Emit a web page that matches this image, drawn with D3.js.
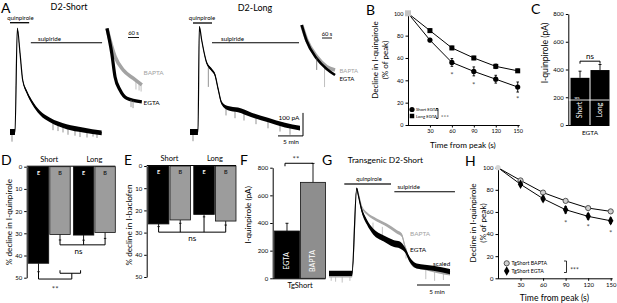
<!DOCTYPE html>
<html>
<head>
<meta charset="utf-8">
<script src="https://cdn.jsdelivr.net/npm/d3@7"></script>
<style>
  body { margin: 0; background: #fff; }
  svg text { font-family: Lato, "Open Sans", sans-serif; }
  .axis path, .axis line { stroke: #000; stroke-width: 1; }
</style>
</head>
<body>
<div id="chart"></div>
<script>
/* ---------- DATA ---------- */

// A: whole-cell traces, time (s) vs current (pA)
const shortT     = [0, 60, 88, 120, 152, 200, 260, 360, 480, 680, 876, 1100];
const shortI     = [0, 0, 451, 344, 226, 175, 132, 83, 52, 23, 9, -4];
const shortNoise = [13, 13, 3, 3, 4, 6, 8, 9, 10, 11, 11, 10];
const shortSpikes = [[24, -10, -42], [516, 40, 8], [576, 34, 4], [636, 28, -2], [696, 22, -12],
                     [780, 16, -16], [840, 12, -22], [924, 8, -24], [996, 4, -20], [1044, 0, -26]];

const longT     = [0, 96, 112, 140, 180, 200, 260, 300, 340, 380, 456, 576, 740, 936, 1140, 1320];
const longI     = [0, 0, 458, 400, 328, 301, 270, 248, 183, 126, 104, 96, 74, 52, 30, 17];
const longNoise = [13, 13, 3, 3, 4, 5, 6, 6, 6, 7, 9, 10, 10, 10, 10, 10];
const longSpikes = [[36, -8, -40], [220, 280, 196], [432, 100, 72], [540, 92, 60], [648, 84, 50],
                    [792, 68, 34], [936, 50, 16], [1080, 36, 2], [1200, 26, -12]];

// A insets: normalised current (% of peak)
const shortInsetBaptaT = [0, 16, 44, 89, 144, 190];
const shortInsetBapta  = [100, 88.7, 72.6, 59.7, 51.7, 45.4];
const shortInsetEgtaT  = [0, 26, 44, 71, 108, 190];
const shortInsetEgta   = [100, 76, 53, 40.5, 32.5, 29];
const longInsetT     = [0, 30, 90, 150, 200];
const longInsetBapta = [100, 86, 70.4, 61, 57.9];
const longInsetEgta  = [100, 85, 68.7, 58.9, 53.3];

// drug application periods (s)
const shortQuin = [0, 230],  shortSulp = [250, 1105];
const longQuin  = [36, 264], longSulp  = [264, 1308];

// B: decline, % of peak
const timePts     = [0, 30, 60, 90, 120, 150];
const shortEgta   = [100, 76, 56, 48, 41, 34];
const shortEgtaSe = [0, 1.5, 3.5, 4, 3.5, 4.5];
const longEgta    = [100, 84.5, 69, 60, 52.5, 48.5];
const longEgtaSe  = [0, 1.5, 1.5, 1.5, 2, 1.5];
const bStars      = [[60, 45], [90, 36], [150, 24]];
const yTicksPct   = [0, 20, 40, 60, 80, 100];
const xTicksTime  = [30, 60, 90, 120, 150];

// C: I-quinpirole (pA), EGTA
const cCats = ["Short", "Long"];
const cVals = [340, 396];
const cSe   = [48, 40];
const pAticks = [0, 200, 400, 600, 800];

// D / E: % decline, buffer E = EGTA, B = BAPTA
const barGroup = ["Short", "Short", "Long", "Long"];
const barBuf   = ["E", "B", "E", "B"];
const dVals = [43.5, 30.5, 30.8, 29.6];
const dSe   = [3.8, 2.5, 2.3, 2.7];
const eVals = [26.1, 24.3, 21.8, 24.8];
const eSe   = [1.2, 1.5, 1.1, 1.8];
const declTicks = [0, 10, 20, 30, 40, 50];

// F: TgShort I-quinpirole (pA)
const fCats = ["EGTA", "BAPTA"];
const fVals = [342, 694];
const fSe   = [56, 137];

// G: transgenic D2-short traces (% of peak)
const gBaptaT = [0, 209, 252, 266, 297, 343, 434, 525, 615, 661, 691, 721, 766, 888, 1009, 1100];
const gBapta  = [-1.7, -1.7, 100, 94, 78.5, 70.8, 63, 57, 49.4, 45.5, 31.9, 20.2, 10.5, 6.7, 2.7, 0.8];
const gBaptaNoise = [2.5, 2.5, 1, 1, 1.5, 1.5, 1.8, 1.8, 2, 2, 2, 2, 2.5, 2.5, 2.5, 2.5];
const gEgtaT  = [0, 209, 252, 266, 297, 343, 403, 494, 585, 645, 691, 736, 797, 948, 1100];
const gEgta   = [0.8, 0.8, 100, 92.2, 74.7, 61, 49.4, 41.7, 35.8, 33.8, 28, 16.3, 9.3, 6.7, 2.7];
const gEgtaNoise = [3, 3, 1, 1.5, 2.5, 3, 3.5, 3.5, 4, 4, 3, 3, 3, 3, 3];
const gSpikes = [[20, -2, -8], [60, -2, -9], [120, -2, -10], [190, -2, -8], [400, 60, 50],
                 [485, 55, 45], [700, 30, 18], [880, 5, -6], [960, 3, -8], [1040, 2, -7]];
const gQuin = [139, 564], gSulp = [594, 1145];

// H: TgShort decline, % of peak
const tgBapta   = [100, 88.5, 77.5, 70, 63.5, 60.5];
const tgBaptaSe = [0, 1, 1, 1, 1, 1.5];
const tgEgta    = [100, 85, 72, 62, 56, 52];
const tgEgtaSe  = [0, 1.5, 2, 3, 2.5, 2.5];
const hStars    = [[90, 50.6], [120, 46.7], [150, 41.2]];

/* ---------- HELPERS ---------- */
const svg = d3.select("#chart").append("svg").attr("width", 617).attr("height", 303);

function label(x, y, s, size, o = {}) {
  const t = svg.append("text").attr("x", x).attr("y", y).attr("font-size", size)
    .attr("text-anchor", o.anchor || "start").attr("fill", o.fill || "#000").text(s);
  if (o.rotate) t.attr("transform", `rotate(-90,${x},${y})`).attr("dy", "0.35em");
  if (o.weight) t.attr("font-weight", o.weight);
  return t;
}
function hline(x1, x2, y, w = 1, c = "#000") {
  svg.append("line").attr("x1", x1).attr("x2", x2).attr("y1", y).attr("y2", y)
    .attr("stroke", c).attr("stroke-width", w);
}
function path(d, w = 1, c = "#000") {
  svg.append("path").attr("d", d).attr("fill", "none").attr("stroke", c).attr("stroke-width", w);
}
function drawTrace(xs, ys, t, v, noise, color, lw) {
  const idx = d3.range(t.length);
  if (noise) svg.append("path")
    .attr("d", d3.area().curve(d3.curveMonotoneX).x(i => xs(t[i]))
      .y0(i => ys(v[i] - noise[i])).y1(i => ys(v[i] + noise[i]))(idx))
    .attr("fill", color);
  svg.append("path")
    .attr("d", d3.line().curve(d3.curveMonotoneX).x(i => xs(t[i])).y(i => ys(v[i]))(idx))
    .attr("fill", "none").attr("stroke", color).attr("stroke-width", lw)
    .attr("stroke-linejoin", "round");
}
function drawSpikes(xs, ys, spikes, color) {
  svg.append("g").selectAll("line").data(spikes).join("line")
    .attr("x1", d => xs(d[0])).attr("x2", d => xs(d[0]))
    .attr("y1", d => ys(d[1])).attr("y2", d => ys(d[2]))
    .attr("stroke", color).attr("stroke-width", 0.7);
}
function yAxis(x, scale, ticks, fs) {
  const g = svg.append("g").attr("class", "axis").attr("transform", `translate(${x},0)`)
    .call(d3.axisLeft(scale).tickValues(ticks).tickSize(2.5).tickPadding(2).tickSizeOuter(0));
  g.attr("font-size", fs);
  return g;
}
function errBar(x, y1, y2, cap = 1.5, w = 0.9) {
  path(`M${x},${y1}V${y2}M${x - cap},${y2}H${x + cap}`, w);
}

/* ---------- A ---------- */
label(1, 13, "A", 14);
label(69, 10, "D2-Short", 9, { anchor: "middle" });
label(255, 11, "D2-Long", 9, { anchor: "middle" });

const yA   = d3.scaleLinear().domain([0, 460]).range([132, 26.2]);
const xAS  = d3.scaleLinear().domain([0, 1200]).range([10, 110]);
const xAL  = d3.scaleLinear().domain([0, 1200]).range([190, 290]);

hline(xAS(shortQuin[0]), xAS(shortQuin[1]), 22.7, 1.3);
label(20.5, 19.5, "quinpirole", 6, { anchor: "middle" });
hline(xAS(shortSulp[0]), xAS(shortSulp[1]), 42.7, 1.1);
label(38, 40.5, "sulpiride", 6.2);
drawSpikes(xAS, yA, shortSpikes, "#666");
drawTrace(xAS, yA, shortT, shortI, shortNoise, "#000", 1.2);

hline(xAL(longQuin[0]), xAL(longQuin[1]), 23, 1.3);
label(202, 19.5, "quinpirole", 6, { anchor: "middle" });
hline(xAL(longSulp[0]), xAL(longSulp[1]), 42.7, 1.1);
label(221, 40.5, "sulpiride", 6.2);
drawSpikes(xAL, yA, longSpikes, "#666");
drawTrace(xAL, yA, longT, longI, longNoise, "#000", 1.2);

// scale bars (5 min, 100 pA)
const sbT = 1056, sbI = -17;
path(`M${xAL(sbT)},${yA(sbI)}H${xAL(sbT + 300)}V${yA(sbI + 100)}`, 1);
label(xAL(sbT) + 0.5, 119.5, "100 pA", 6.5);
label(xAL(sbT) + 13, 144, "5 min", 6.5, { anchor: "middle" });

// insets
const yInS = d3.scaleLinear().domain([0, 100]).range([132, 28.3]);
const xInS = d3.scaleLinear().domain([0, 60]).range([107, 118]);
drawTrace(xInS, yInS, shortInsetBaptaT, shortInsetBapta, null, "#a3a3a3", 3.6);
drawSpikes(xInS, yInS, [[158, 49, 41], [175, 47, 40], [186, 46, 39]], "#a3a3a3");
drawTrace(xInS, yInS, shortInsetEgtaT, shortInsetEgta, null, "#000", 3.2);
drawSpikes(xInS, yInS, [[131, 31, 24], [142, 30, 23]], "#777");
hline(128, 128 + (xInS(60) - xInS(0)), 37.5, 0.9);
label(133.5, 35, "60 s", 5.8, { anchor: "middle" });
label(143.5, 74.5, "BAPTA", 6.5, { fill: "#a3a3a3" });
label(143.5, 105, "EGTA", 6.5);

const yInL = d3.scaleLinear().domain([0, 100]).range([132, 25]);
const xInL = d3.scaleLinear().domain([0, 60]).range([301.7, 311.7]);
drawTrace(xInL, yInL, longInsetT, longInsetBapta, null, "#a3a3a3", 3.6);
drawSpikes(xInL, yInL, [[137, 62, 42]], "#a3a3a3");
drawTrace(xInL, yInL, longInsetT, longInsetEgta, null, "#000", 2.6);
drawSpikes(xInL, yInL, [[90, 69, 58]], "#555");
hline(322, 322 + (xInL(60) - xInL(0)), 38, 0.9);
label(327, 35.5, "60 s", 5.8, { anchor: "middle" });
label(339.5, 72.5, "BAPTA", 6, { fill: "#a3a3a3" });
label(339.5, 80.5, "EGTA", 6);

/* ---------- B & H (time course) ---------- */
function timeCourse(o) {
  const x = d3.scaleLinear().domain([0, 150]).range(o.xr);
  const y = d3.scaleLinear().domain([0, 100]).range(o.yr);
  yAxis(o.xr[0], y, yTicksPct, o.fs);
  const gx = svg.append("g").attr("class", "axis").attr("transform", `translate(0,${o.yr[0]})`)
    .call(d3.axisBottom(x).tickValues(xTicksTime).tickSize(2.5).tickPadding(2).tickSizeOuter(0));
  gx.attr("font-size", o.fs);
  gx.select(".domain").attr("d", `M${o.xr[0]},0.5H${o.xr[1] + 2}`);
  label((o.xr[0] + o.xr[1]) / 2, o.xlabY, "Time from peak (s)", o.xlabFs, { anchor: "middle" });
  label(o.ylabX, o.ylabY, "Decline in I-quinpirole", o.ylabFs, { anchor: "middle", rotate: true });
  label(o.ylabX + 10, o.ylabY, "(% of peak)", o.ylabFs, { anchor: "middle", rotate: true });

  o.series.forEach(s => {
    svg.append("path").attr("d", d3.line().x((d, i) => x(timePts[i])).y(d => y(d))(s.v))
      .attr("fill", "none").attr("stroke", "#000").attr("stroke-width", 1);
    s.v.forEach((v, i) => {
      if (s.se[i] > 0) {
        errBar(x(timePts[i]), y(v), y(v + s.se[i]), 1.3);
        errBar(x(timePts[i]), y(v), y(v - s.se[i]), 1.3);
      }
    });
    s.v.forEach((v, i) => { if (i > 0) s.mark(x(timePts[i]), y(v)); });
  });
  o.first(x(0), y(100));
  o.stars.forEach(d => label(x(d[0]), y(d[1]) + 3.5, "*", 8, { anchor: "middle", fill: "#555" }));
  return { x, y };
}
const circ = (fill, stroke) => (cx, cy) => svg.append("circle").attr("cx", cx).attr("cy", cy)
  .attr("r", 2.6).attr("fill", fill).attr("stroke", stroke || "none").attr("stroke-width", 0.9);
const sq = (fill, s) => (cx, cy) => svg.append("rect").attr("x", cx - s / 2).attr("y", cy - s / 2)
  .attr("width", s).attr("height", s).attr("fill", fill);
const diam = fill => (cx, cy) => svg.append("path").attr("transform", `translate(${cx},${cy})`)
  .attr("d", d3.symbol(d3.symbolDiamond, 26)()).attr("fill", fill);

label(366, 15, "B", 14);
timeCourse({
  xr: [408, 517.7], yr: [125, 13.3], fs: 5.5,
  xlabY: 147.5, xlabFs: 8.2, ylabX: 375, ylabY: 60, ylabFs: 8,
  series: [{ v: shortEgta, se: shortEgtaSe, mark: circ("#000") },
           { v: longEgta, se: longEgtaSe, mark: sq("#000", 5) }],
  first: sq("#c4c4c4", 6),
  stars: bStars
});
circ("#000")(412, 109.5); label(416, 111.3, "Short EGTA", 4.3);
sq("#000", 4.5)(412, 116); label(416, 118, "Long EGTA", 4.3);
path("M436,108.5H438V118.5H436", 0.8);
label(445, 118.5, "***", 6.5, { anchor: "middle", fill: "#444" });

label(465, 166, "H", 14);
timeCourse({
  xr: [498, 610.7], yr: [278.3, 167.7], fs: 6,
  xlabY: 301, xlabFs: 8.6, ylabX: 473.5, ylabY: 223, ylabFs: 8.2,
  series: [{ v: tgBapta, se: tgBaptaSe, mark: circ("#cfcfcf", "#444") },
           { v: tgEgta, se: tgEgtaSe, mark: diam("#000") }],
  first: circ("#d6d6d6"),
  stars: hStars
});
circ("#cfcfcf", "#444")(506.7, 263.3); label(511.5, 265.3, "TgShort BAPTA", 5.3);
diam("#000")(506.7, 271); label(511.5, 273.3, "TgShort EGTA", 5.3);
path("M564,261H566.5V272.5H564", 0.8);
label(574.5, 272.5, "***", 6.8, { anchor: "middle", fill: "#444" });

/* ---------- C ---------- */
label(531, 14, "C", 14);
const yC = d3.scaleLinear().domain([0, 800]).range([125, 14]);
const xC = d3.scaleBand().domain(cCats).range([570.5, 609.5]).paddingInner(0.05);
yAxis(568.3, yC, pAticks, 6);
hline(568.3, 609.5, yC(0) + 0.5, 1);
cCats.forEach((c, i) => {
  const cx = xC(c) + xC.bandwidth() / 2;
  errBar(cx, yC(cVals[i]), yC(cVals[i] + cSe[i]), 1.5);
  svg.append("rect").attr("x", xC(c)).attr("y", yC(cVals[i]))
    .attr("width", xC.bandwidth()).attr("height", yC(0) - yC(cVals[i])).attr("fill", "#000");
  label(cx, 110, c, 7, { anchor: "middle", rotate: true, fill: "#fff" });
});
hline(568.8, 609.5, yC(180), 0.9, "#fff");
label(574.5, 98.5, "ws", 4, { fill: "#fff" });
{
  const a = xC("Short") + xC.bandwidth() / 2, b = xC("Long") + xC.bandwidth() / 2, y = yC(460);
  path(`M${a},${y + 2.5}V${y}H${b}V${y + 2.5}`, 1);
  label((a + b) / 2, y - 2, "ns", 8, { anchor: "middle" });
}
label(590, 134.5, "EGTA", 6.5, { anchor: "middle" });
label(545, 53, "I-quinpirole (pA)", 8.6, { anchor: "middle", rotate: true });

/* ---------- D & E (hanging bars) ---------- */
function hangBars(o) {
  const y = d3.scaleLinear().domain([0, 50]).range(o.yr);
  const grp = d3.scaleBand().domain(["Short", "Long"]).range(o.xr).paddingInner(0.07);
  const sub = d3.scaleBand().domain(["E", "B"]).range([0, grp.bandwidth()]).paddingInner(0.05);
  const cx = i => grp(barGroup[i]) + sub(barBuf[i]) + sub.bandwidth() / 2;
  yAxis(o.ax, y, declTicks, 6);
  hline(o.ax, o.xr[1], y(0) - 0.5, 1);
  o.vals.forEach((v, i) => {
    errBar(cx(i), y(v), y(v + o.se[i]), 1.2);
    svg.append("rect").attr("x", grp(barGroup[i]) + sub(barBuf[i])).attr("y", y(0))
      .attr("width", sub.bandwidth()).attr("height", y(v) - y(0))
      .attr("fill", barBuf[i] === "E" ? "#000" : "#9c9c9c")
      .attr("stroke", "#111").attr("stroke-width", 0.8);
    label(cx(i), y(0) + 8, barBuf[i], 5.5, { anchor: "middle", weight: "bold",
      fill: barBuf[i] === "E" ? "#fff" : "#222" });
  });
  ["Short", "Long"].forEach(g => label(grp(g) + grp.bandwidth() / 2, o.titleY, g, 7.5, { anchor: "middle" }));
  label(o.ylabX, o.ylabY, o.ylab, 8.2, { anchor: "middle", rotate: true });
  return { y, cx };
}

label(1, 165, "D", 14);
const D = hangBars({ yr: [166.7, 277.7], xr: [28.3, 115.3], ax: 26.7, vals: dVals, se: dSe,
  titleY: 162, ylabX: 9, ylabY: 222, ylab: "% decline in I-quinpirole" });
{
  // ns: BAPTA-short vs EGTA-long vs BAPTA-long
  const yb = D.y(35.2);
  let d = `M${D.cx(1)},${yb}H${D.cx(3)}`;
  [1, 2, 3].forEach(i => { d += `M${D.cx(i)},${yb}V${D.y(dVals[i] + dSe[i])}`; });
  path(d, 1);
  label(D.cx(2) - 5, 254, "ns", 8, { anchor: "middle" });
  // **: EGTA-short vs others
  const y1 = D.y(48), y2 = D.y(50.6), mid = (D.cx(1) + D.cx(2)) / 2;
  path(`M${D.cx(1)},${y1 - 3}V${y1}H${D.cx(2) - 3}V${y1 - 3}`, 1);
  path(`M${D.cx(0)},${D.y(dVals[0] + dSe[0])}V${y2}H${mid}V${y1}`, 1);
  label((D.cx(0) + mid) / 2, 292, "**", 8, { anchor: "middle", fill: "#444" });
}

label(124, 165, "E", 14);
const E = hangBars({ yr: [166, 277], xr: [148.3, 236], ax: 146.7, vals: eVals, se: eSe,
  titleY: 161, ylabX: 129, ylabY: 225, ylab: "% decline in I-baclofen" });
{
  const yb = E.y(29.8);
  let d = `M${E.cx(0)},${yb}H${E.cx(3)}`;
  [0, 1, 2, 3].forEach(i => { d += `M${E.cx(i)},${yb}V${E.y(eVals[i] + eSe[i])}`; });
  path(d, 1);
  label((E.cx(1) + E.cx(2)) / 2, 241, "ns", 8, { anchor: "middle" });
}

/* ---------- F ---------- */
label(240, 165, "F", 14);
const yF = d3.scaleLinear().domain([0, 800]).range([278.3, 167.7]);
const xF = d3.scaleBand().domain(fCats).range([274.5, 325.5]).paddingInner(0.04);
yAxis(272.7, yF, pAticks, 6);
hline(272.7, 325.5, yF(0) + 0.5, 1);
fCats.forEach((c, i) => {
  const cx = xF(c) + xF.bandwidth() / 2;
  errBar(cx, yF(fVals[i]), yF(fVals[i] + fSe[i]), 1.5);
  svg.append("rect").attr("x", xF(c)).attr("y", yF(fVals[i]))
    .attr("width", xF.bandwidth()).attr("height", yF(0) - yF(fVals[i]))
    .attr("fill", i === 0 ? "#000" : "#8e8e8e").attr("stroke", "#111").attr("stroke-width", 0.8);
  label(cx, 261, c, 7, { anchor: "middle", rotate: true, fill: "#fff" });
});
{
  const a = xF("EGTA") + xF.bandwidth() / 2, b = xF("BAPTA") + xF.bandwidth() / 2, y = yF(832);
  path(`M${a - 2},${y + 3}V${y}H${b}`, 1);
  label((a + b) / 2 - 4, y - 1, "**", 8, { anchor: "middle", fill: "#444" });
}
label(300, 288, "TgShort", 7.5, { anchor: "middle" });
label(248.5, 215, "I-quinpirole (pA)", 8.2, { anchor: "middle", rotate: true });

/* ---------- G ---------- */
label(322, 165, "G", 14);
label(385.5, 163, "Transgenic D2-Short", 8.4, { anchor: "middle" });
const xG = d3.scaleLinear().domain([0, 300]).range([329, 362]);
const yG = d3.scaleLinear().domain([0, 100]).range([274, 188.3]);
hline(xG(gQuin[0]), xG(gQuin[1]), 184, 1.6, "#333");
label(369, 180.5, "quinpirole", 5.8, { anchor: "middle" });
hline(xG(gSulp[0]), xG(gSulp[1]), 191.7, 1.1);
label(397.5, 189, "sulpiride", 6);
drawSpikes(xG, yG, gSpikes, "#a8a8a8");
drawTrace(xG, yG, gBaptaT, gBapta, gBaptaNoise, "#a8a8a8", 1.2);
drawTrace(xG, yG, gEgtaT, gEgta, gEgtaNoise, "#000", 1.2);
label(410, 236, "BAPTA", 6.5, { fill: "#a3a3a3" });
label(410, 252, "EGTA", 6.5);
label(433, 265.5, "scaled", 6.3);
hline(xG(800), xG(1100), 285, 1);
label(437, 293.5, "5 min", 6.3, { anchor: "middle" });
</script>
</body>
</html>
